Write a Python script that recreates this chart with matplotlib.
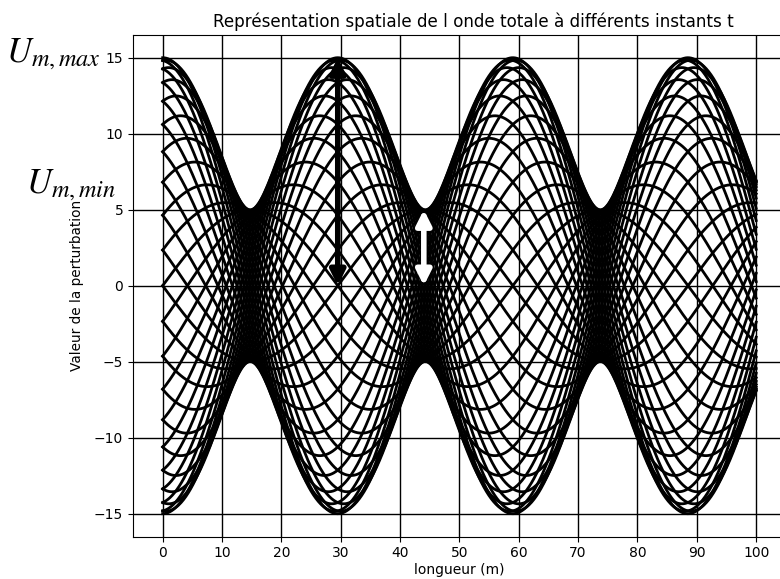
"""Onde totale (incidente + réfléchie) tracée à différents instants t."""

import matplotlib
matplotlib.use("Agg")
import matplotlib.pyplot as plt
import numpy as np


# ── paramètres de l'onde ──────────────────────────────────────────────────

amp_incidente = 10.0     # amplitude de l'onde incidente
amp_reflechie = 5.0      # amplitude de l'onde réfléchie
longueur_onde = 59.0     # m
periode = 1.0            # s
n_instants = 40          # instants par période

x_min, x_max = 0.0, 100.0
instants = [i * periode / n_instants for i in range(n_instants)]

# repères U_m,max / U_m,min
x_fleche_max = 29.5
x_fleche_min = 44.0
u_max = amp_incidente + amp_reflechie
u_min = amp_incidente - amp_reflechie


def onde_totale(x, t):
    k = 2 * np.pi / longueur_onde
    w = 2 * np.pi / periode
    return (amp_incidente * np.cos(k * x - w * t)
            + amp_reflechie * np.cos(k * x + w * t))


# ── figure ────────────────────────────────────────────────────────────────

fig = plt.figure(figsize=(7.8, 5.79), dpi=100)
ax = fig.add_axes([0.1705, 0.0734, 0.837, 0.8663])

x = np.linspace(x_min, x_max, 1000)
for t in instants:
    ax.plot(x, onde_totale(x, t), color="black", linewidth=2)

ax.grid(True, color="black", linewidth=1)
ax.set_axisbelow(True)
ax.set_xticks(np.arange(0, 101, 10))
ax.set_yticks(np.arange(-15, 16, 5))
ax.tick_params(labelsize=10)

ax.set_title("Représentation spatiale de l onde totale à différents instants t",
             fontsize=12.1, x=0.522)
ax.set_xlabel("longueur (m)", fontsize=10, labelpad=2)
ax.set_ylabel("Valeur de la perturbation", fontsize=9.8, labelpad=7)

# flèches d'amplitude
ax.annotate("", xy=(x_fleche_max, u_max), xytext=(x_fleche_max, 0),
            arrowprops=dict(arrowstyle="<|-|>", color="black", lw=4,
                            mutation_scale=22, shrinkA=0, shrinkB=0),
            zorder=5)
ax.annotate("", xy=(x_fleche_min, u_min), xytext=(x_fleche_min, 0),
            arrowprops=dict(arrowstyle="<|-|>", color="white", lw=4,
                            mutation_scale=22, shrinkA=0, shrinkB=0),
            zorder=5)

ax.text(-26.4, 14.7, r"$U_{m,max}$", fontsize=25, math_fontfamily="stix",
        clip_on=False)
ax.text(-23.0, 6.1, r"$U_{m,min}$", fontsize=25, math_fontfamily="stix",
        clip_on=False)

fig.savefig("out.png", dpi=100)
